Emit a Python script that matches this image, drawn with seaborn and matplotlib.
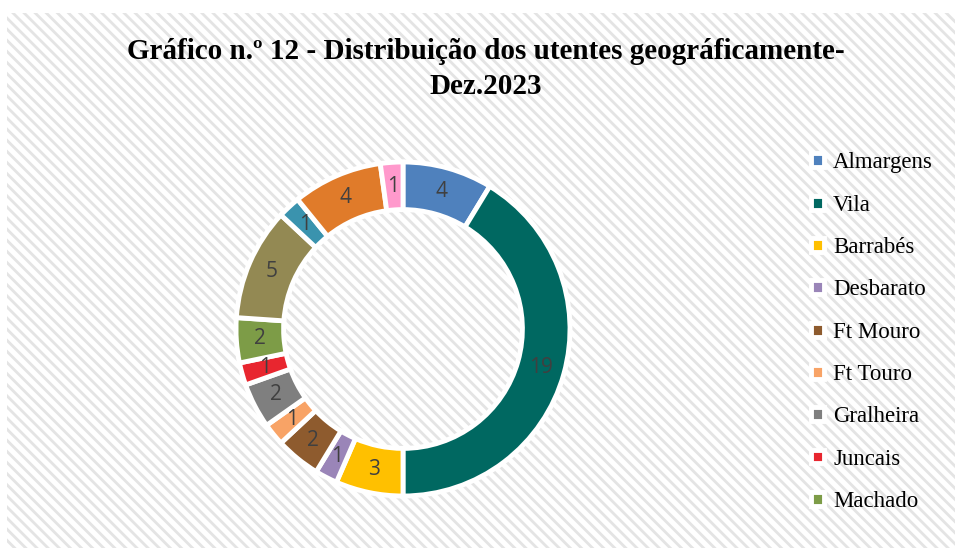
import matplotlib
matplotlib.use("Agg")
import matplotlib.pyplot as plt
import seaborn as sns
from matplotlib.patches import Rectangle

# data (clockwise from 12 o'clock)
locais = ["Almargens", "Vila", "Barrabés", "Desbarato", "Ft Mouro", "Ft Touro",
          "Gralheira", "Juncais", "Machado", "Local 10", "Local 11", "Local 12", "Local 13"]
utentes = [4, 19, 3, 1, 2, 1, 2, 1, 2, 5, 1, 4, 1]
cores = ["#4F81BD", "#006861", "#FFC000", "#9A85B8", "#8E5B2E", "#F8A366",
         "#7F7F7F", "#E8262F", "#7D9C47", "#938953", "#3A93AE", "#E07B2A", "#FF99CC"]
titulo = "Gráfico n.º 12 - Distribuição dos utentes geográficamente-\nDez.2023"
n_legenda = 9

sns.set_theme(style="white")
plt.rcParams["hatch.linewidth"] = 2.0
plt.rcParams["hatch.color"] = "#e4e4e4"

W, H = 955, 548
fig = plt.figure(figsize=(W / 100, H / 100), dpi=100)
fig.patch.set_facecolor("white")

# hatched chart area background
bg = Rectangle((7 / W, 0), 1 - 7 / W, 1 - 13 / H, transform=fig.transFigure,
               facecolor="white", edgecolor="#e4e4e4", hatch="\\\\\\", lw=0, zorder=-10)
fig.patches.append(bg)

cx, cy, r = 403, 329, 167
ax = fig.add_axes([(cx - r) / W, (H - cy - r) / H, 2 * r / W, 2 * r / H])
ax.set_facecolor("none")

palette = sns.color_palette(cores)
total = sum(utentes)
wedges, _, autotexts = ax.pie(
    utentes, colors=palette, startangle=90, counterclock=False, radius=1,
    wedgeprops=dict(width=0.285, edgecolor="white", linewidth=3.5),
    autopct=lambda p: f"{round(p * total / 100)}", pctdistance=0.857,
    textprops=dict(color="#404040", fontsize=15, family="Open Sans"))
ax.set_xlim(-1, 1)
ax.set_ylim(-1, 1)
ax.set_aspect("equal")
ax.axis("off")

fig.text(486 / W, 1 - 69 / H, titulo, ha="center", va="center", fontsize=21,
         fontweight="bold", family="Liberation Serif", color="black", linespacing=1.35)

leg = fig.legend(wedges[:n_legenda], locais[:n_legenda], loc="upper left",
                 bbox_to_anchor=(800 / W, 1 - 141 / H), frameon=False,
                 prop=dict(family="Liberation Serif", size=16.5), handlelength=0.55,
                 handleheight=0.55, handletextpad=0.4, labelspacing=0.93, borderpad=0)
for t in leg.get_texts():
    t.set_color("black")

fig.savefig("out.png", dpi=100)
